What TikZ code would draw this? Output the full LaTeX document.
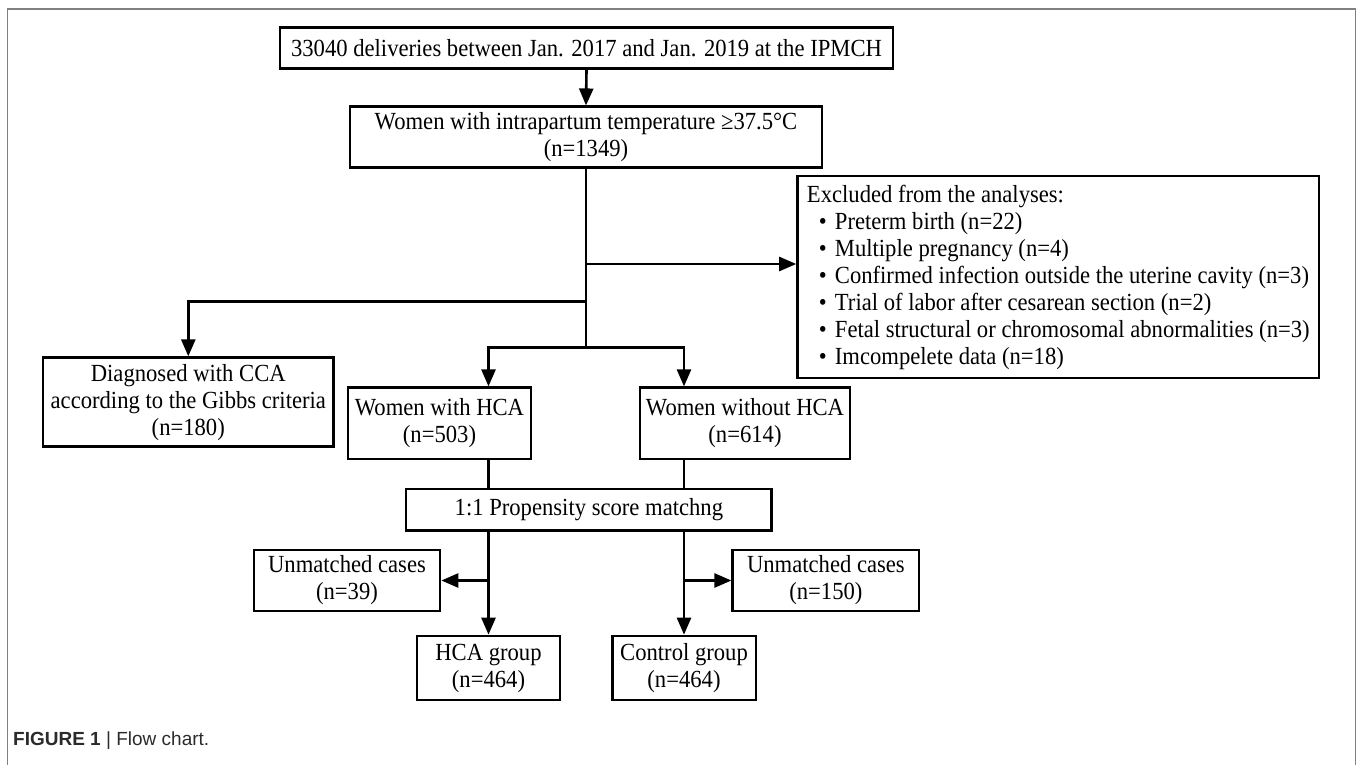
\documentclass[tikz,border=0pt]{standalone}
\usepackage{fontspec}
\setmainfont{Liberation Serif}[FakeStretch=0.92]
\newfontfamily\capfont{Liberation Sans}
\usetikzlibrary{arrows.meta}
\definecolor{framegray}{HTML}{808080}
\definecolor{capgray}{HTML}{2B2B2B}
\newcommand{\mainfs}{\fontsize{24.6}{27}\selectfont}
\newcommand{\bul}{\makebox[28pt][l]{\hspace{12pt}\textbullet}}
\begin{document}
\begin{tikzpicture}[x=1pt,y=-1pt,
  box/.style={draw, line width=2.7pt, inner sep=0pt, align=center, font=\mainfs},
  conn/.style={line width=2.6pt},
  arr/.style={conn, -{Triangle[length=17pt,width=14pt]}}]
\useasboundingbox (0,0) rectangle (1358,765);
% frame
\draw[framegray, line width=1.8pt] (7.5,765) -- (7.5,9) -- (1355.5,9) -- (1355.5,765);
% boxes
\node[box, minimum width=613pt, minimum height=41pt] (b1) at (586.5,48)
  {33040 deliveries between Jan. 2017 and Jan. 2019 at the IPMCH};
\node[box, minimum width=472pt, minimum height=61pt] (b2) at (586,137.3)
  {Women with intrapartum temperature ≥37.5°C\\(n=1349)};
\node[box, minimum width=521.5pt, minimum height=202pt, align=left] (ex) at (1058.3,277)
  {Excluded from the analyses:\\
   \bul Preterm birth (n=22)\\
   \bul Multiple pregnancy (n=4)\\
   \bul Confirmed infection outside the uterine cavity (n=3)\\
   \bul Trial of labor after cesarean section (n=2)\\
   \bul Fetal structural or chromosomal abnormalities (n=3)\\
   \bul Imcompelete data (n=18)};
\node[box, minimum width=290.5pt, minimum height=89pt] (cca) at (188.3,402.2)
  {Diagnosed with CCA\\according to the Gibbs criteria\\(n=180)};
\node[box, minimum width=183pt, minimum height=71.3pt] (hca) at (439.5,423.4)
  {Women with HCA\\(n=503)};
\node[box, minimum width=210pt, minimum height=71.3pt] (woh) at (745,423.4)
  {Women without HCA\\(n=614)};
\node[box, minimum width=365.7pt, minimum height=41.7pt] (psm) at (588.9,509.9)
  {1:1 Propensity score matchng};
\node[box, minimum width=186pt, minimum height=61pt] (um1) at (347,580.5)
  {Unmatched cases\\(n=39)};
\node[box, minimum width=186.3pt, minimum height=61pt] (um2) at (825.9,580.5)
  {Unmatched cases\\(n=150)};
\node[box, minimum width=143pt, minimum height=64pt] (hg) at (488.5,668)
  {HCA group\\(n=464)};
\node[box, minimum width=143.7pt, minimum height=64pt] (cg) at (684,668)
  {Control group\\(n=464)};
% junctions
\coordinate (jx) at (586,264);
\coordinate (jc) at (586,301.7);
\coordinate (jb) at (586,347.3);
% connectors
\draw[arr] (b1.south) -- (b2.north);
\draw[conn] (b2.south) -- (jb);
\draw[arr] (jx) -- (jx -| ex.west);
\draw[arr] (jc) -| (cca.north);
\draw[arr] (jb) -| (hca.north -| hg.north);
\draw[arr] (jb) -| (woh.north -| cg.north);
\draw[conn] (hca.south -| hg.north) -- (psm.north -| hg.north);
\draw[conn] (woh.south -| cg.north) -- (psm.north -| cg.north);
\draw[arr] (psm.south -| hg.north) -- (hg.north);
\draw[arr] (psm.south -| cg.north) -- (cg.north);
\draw[arr] (um1.east -| hg.north) -- (um1.east);
\draw[arr] (um2.west -| cg.north) -- (um2.west);
% caption
\node[anchor=base west, text=capgray, inner sep=0pt,
  font=\capfont\fontsize{19}{22}\selectfont] (cap) at (13,745)
  {\textbf{FIGURE 1} | Flow chart.};
\end{tikzpicture}
\end{document}
